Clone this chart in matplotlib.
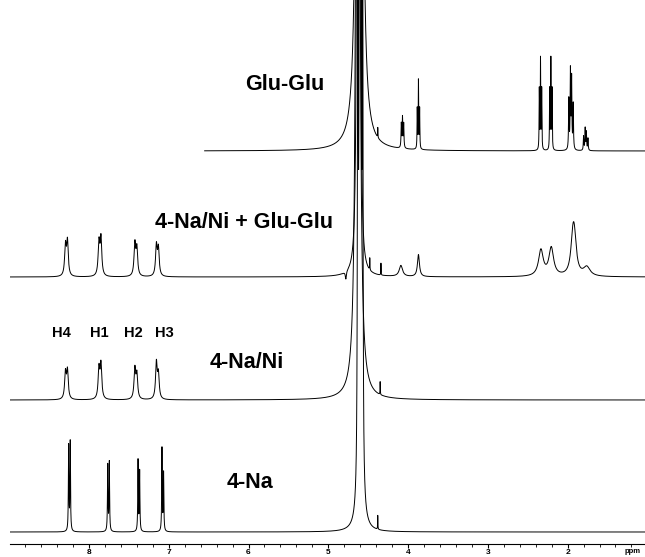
"""
Stacked 1H NMR spectra: 4-Na, 4-Na/Ni, 4-Na/Ni + Glu-Glu, Glu-Glu
"""
import numpy as np
import matplotlib.pyplot as plt

plt.rcParams['font.family'] = ['Liberation Sans', 'DejaVu Sans']

#### Data (ppm positions, heights, line widths)

# bottom: 4-Na
na_ppm = [8.255, 8.235, 7.765, 7.745, 7.385, 7.365, 7.085, 7.065, 4.600, 4.570, 4.630, 4.380]
na_h = [85, 89, 66, 69, 71, 60, 83, 58, 3000, 800, 800, 14]
na_w = [0.004, 0.004, 0.004, 0.004, 0.004, 0.004, 0.004, 0.004, 0.006, 0.004, 0.004, 0.002]

# 4-Na/Ni
nani_ppm = [8.295, 8.270, 7.875, 7.850, 7.425, 7.400, 7.155, 7.130, 4.630, 4.350]
nani_h = [26, 28, 30, 34, 30, 24, 36, 24, 5000, 13]
nani_w = [0.012, 0.012, 0.012, 0.012, 0.012, 0.012, 0.012, 0.012, 0.0093, 0.002]

# 4-Na/Ni + Glu-Glu
mix_ppm = [8.295, 8.270, 7.875, 7.850, 7.425, 7.400, 7.155, 7.130, 4.630, 4.600, 4.780,
           4.480, 4.340, 4.090, 3.870, 2.335, 2.205, 1.935, 1.915, 1.760]
mix_h = [30, 34, 33, 37, 32, 27, 30, 27, 3000, 1000, -8,
         12, 12, 11, 22, 26, 28, 30, 30, 9]
mix_w = [0.012, 0.012, 0.012, 0.012, 0.012, 0.012, 0.012, 0.012, 0.006, 0.006, 0.008,
         0.002, 0.002, 0.025, 0.015, 0.035, 0.035, 0.03, 0.03, 0.05]

# top: Glu-Glu
glu_ppm = [4.620, 4.595, 4.380, 4.085, 4.070, 4.055, 3.885, 3.870, 3.855,
           2.355, 2.340, 2.325, 2.225, 2.210, 2.195,
           1.985, 1.965, 1.950, 1.930, 1.800, 1.780, 1.765, 1.745]
glu_h = [3000, 2000, 10, 24, 30, 24, 40, 68, 40,
         60, 90, 60, 60, 90, 60,
         50, 78, 70, 45, 14, 22, 18, 12]
glu_w = [0.012, 0.012, 0.002, 0.004, 0.004, 0.004, 0.003, 0.003, 0.003,
         0.003, 0.003, 0.003, 0.003, 0.003, 0.003,
         0.004, 0.004, 0.004, 0.004, 0.004, 0.004, 0.004, 0.004]

spectra = [
    (na_ppm, na_h, na_w, 13, 9.0, "4-Na", 5.98, 63),
    (nani_ppm, nani_h, nani_w, 145, 9.0, "4-Na/Ni", 6.02, 183),
    (mix_ppm, mix_h, mix_w, 268, 9.0, "4-Na/Ni + Glu-Glu", 6.06, 322),
    (glu_ppm, glu_h, glu_w, 394, 6.55, "Glu-Glu", 5.55, 460),
]

h_labels = ["H4", "H1", "H2", "H3"]
h_label_ppm = [8.35, 7.87, 7.44, 7.06]

#### Plot

fig = plt.figure(figsize=(6.45, 5.57), dpi=100)
ax = fig.add_axes([10 / 645, 13 / 557, 635 / 645, 544 / 557])

x = np.linspace(9.0, 1.0, 16000)

def lorentz_sum(x, ppm, h, w):
    y = np.zeros_like(x)
    for c, a, g in zip(ppm, h, w):
        y += a / (1 + ((x - c) / g) ** 2)
    return y

for ppm, h, w, offset, start, label, lx, ly in spectra:
    xs = x[x <= start]
    ys = lorentz_sum(xs, ppm, h, w) + offset - 1
    ax.plot(xs, ys, color='black', lw=0.7, clip_on=True)
    ax.text(lx, ly - 1, label, fontsize=15.5, fontweight='bold', ha='center', va='center')

for lab, p in zip(h_labels, h_label_ppm):
    ax.text(p, 211, lab, fontsize=10.5, fontweight='bold', ha='center', va='center')

ax.set_xlim(8.99, 1.03)
ax.set_ylim(0, 544)

for s in ['top', 'left', 'right']:
    ax.spines[s].set_visible(False)
ax.spines['bottom'].set_linewidth(0.8)
ax.set_yticks([])
ax.set_xticks([8, 7, 6, 5, 4, 3, 2])
ax.set_xticks(np.arange(1.2, 9.0, 0.2), minor=True)
ax.tick_params(axis='x', which='major', direction='out', length=3, width=0.8,
               labelsize=6, pad=0.5)
ax.tick_params(axis='x', which='minor', direction='out', length=2, width=0.6)
for t in ax.get_xticklabels():
    t.set_fontweight('bold')
ax.text(1.18, -4, "ppm", fontsize=5.5, fontweight='bold', ha='center', va='top')

fig.savefig("out.png", dpi=100)
